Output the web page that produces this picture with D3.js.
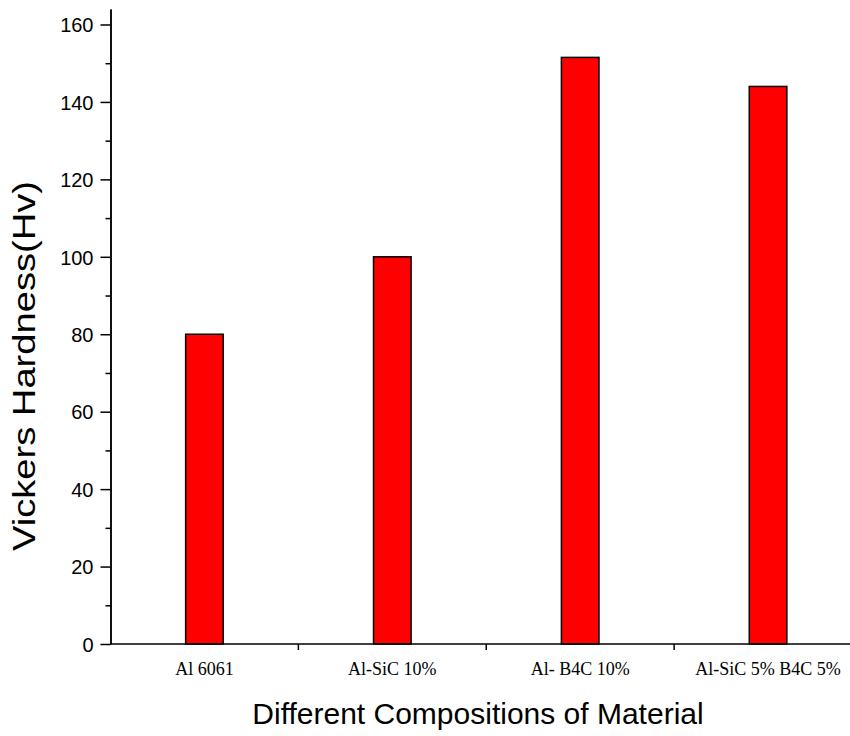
<!DOCTYPE html>
<html lang="en">
<head>
    <meta charset="UTF-8">
    <title>Vickers Hardness</title>
    <style>
        body{ margin:0; background:#fff; }
        .bar{
            fill:#ff0000;
            stroke:#000;
            stroke-width:1.5px;
        }
        .axis path, .axis line{ stroke:#000; stroke-width:1.5px; }
        .ylab text{ font-family:"Liberation Sans", Arial, sans-serif; font-size:20px; fill:#000; }
        .xlab text{ font-family:"Liberation Serif", "Times New Roman", serif; font-size:18px; fill:#000; }
        .title{ font-family:"Liberation Sans", Arial, sans-serif; font-size:30px; fill:#000; }
    </style>
    <script src="https://d3js.org/d3.v7.min.js"></script>
</head>
<body>
    <div class="canvas"></div>
    <script>
    const materials = ['Al 6061', 'Al-SiC 10%', 'Al- B4C 10%', 'Al-SiC 5% B4C 5%'];
    const hardness = [80, 100, 151.5, 144];
    const yTicks = [0, 20, 40, 60, 80, 100, 120, 140, 160];
    const yMinorTicks = [10, 30, 50, 70, 90, 110, 130, 150];

    const plotLeft = 110.5, plotBottom = 644, plotTop = 9, plotRight = 862;

    const svg = d3.select('.canvas')
                    .append('svg')
                    .attr('width', 850)
                    .attr('height', 736);

    const x = d3.scaleBand()
                .domain(materials)
                .range([plotLeft, plotRight])
                .paddingInner(0.8)
                .paddingOuter(0.4);
    const y = d3.scaleLinear()
                .domain([0, 164])
                .range([plotBottom, plotTop]);

    // bars
    svg.selectAll('rect')
        .data(materials)
        .enter()
        .append('rect')
        .attr('class', 'bar')
        .attr('x', d => x(d))
        .attr('width', x.bandwidth())
        .attr('y', (d, i) => y(hardness[i]))
        .attr('height', (d, i) => y(0) - y(hardness[i]));

    // y axis with minor ticks
    svg.append('g')
        .attr('class', 'axis')
        .attr('transform', `translate(${plotLeft},0)`)
        .call(d3.axisLeft(y).tickValues(yMinorTicks).tickSize(5).tickFormat('').tickSizeOuter(0));
    svg.append('g')
        .attr('class', 'axis ylab')
        .attr('transform', `translate(${plotLeft},0)`)
        .call(d3.axisLeft(y).tickValues(yTicks).tickSize(10).tickPadding(7).tickSizeOuter(0))
        .selectAll('text').attr('dy', '0.36em');

    // x axis: ticks at category boundaries, labels centred
    const step = x.step();
    const bounds = materials.map((d, i) => plotLeft + step * (i + 1)).slice(0, -1);
    const g = svg.append('g')
        .attr('class', 'axis')
        .attr('transform', `translate(0,${plotBottom})`);
    g.append('line')
        .attr('x1', plotLeft).attr('x2', plotRight)
        .attr('y1', 0).attr('y2', 0);
    g.selectAll('.tk')
        .data(bounds)
        .enter()
        .append('line')
        .attr('class', 'tk')
        .attr('x1', d => d).attr('x2', d => d)
        .attr('y1', 0).attr('y2', 6);

    svg.append('g')
        .attr('class', 'xlab')
        .selectAll('text')
        .data(materials)
        .enter()
        .append('text')
        .attr('x', d => x(d) + x.bandwidth() / 2)
        .attr('y', 675)
        .attr('text-anchor', 'middle')
        .text(d => d);

    // titles
    svg.append('text')
        .attr('class', 'title')
        .attr('x', 478)
        .attr('y', 724)
        .attr('text-anchor', 'middle')
        .text('Different Compositions of Material');
    svg.append('text')
        .attr('class', 'title')
        .attr('transform', 'translate(35,366) rotate(-90)')
        .attr('text-anchor', 'middle')
        .attr('textLength', 370)
        .attr('lengthAdjust', 'spacingAndGlyphs')
        .style('font-size', '31px')
        .text('Vickers Hardness(Hv)');
    </script>
</body>
</html>
